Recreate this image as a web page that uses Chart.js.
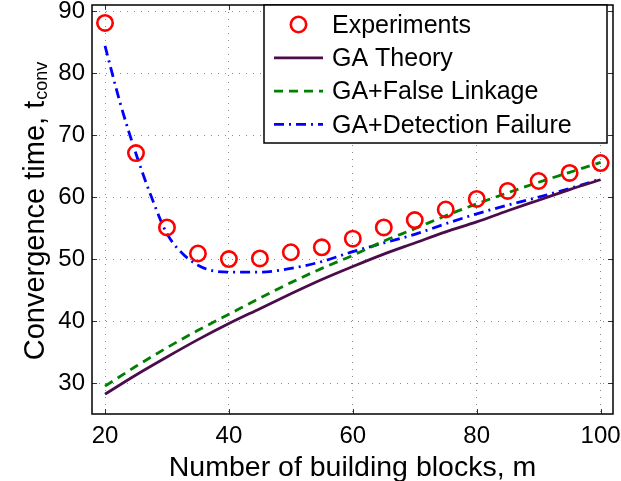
<!DOCTYPE html>
<html><head><meta charset="utf-8">
<script src="https://cdn.jsdelivr.net/npm/chart.js@4.4.1/dist/chart.umd.min.js"></script>
<style>html,body{margin:0;padding:0;background:#fff;overflow:hidden}#wrap{width:621px;height:481px;position:relative}</style>
</head><body><div id="wrap"><canvas id="c"></canvas></div>
<script>
// ---- data ----
const xTickValues = [20, 40, 60, 80, 100];
const yTickValues = [30, 40, 50, 60, 70, 80, 90];

const expM = [20, 25, 30, 35, 40, 45, 50, 55, 60, 65, 70, 75, 80, 85, 90, 95, 100];
const expT = [88.1, 67.1, 55.1, 50.9, 50.0, 50.1, 51.1, 51.9, 53.3, 55.1, 56.3, 58.0, 59.7, 61.0, 62.6, 63.9, 65.5];

const theoryM = [20, 25, 30, 35, 40, 45, 50, 55, 60, 65, 70, 75, 80, 85, 90, 95, 100];
const theoryT = [28.2, 31.3, 34.2, 37.0, 39.6, 42.0, 44.4, 46.7, 48.8, 50.8, 52.6, 54.4, 56.0, 57.8, 59.5, 61.2, 62.8];

const falseLinkM = [20, 25, 30, 35, 40, 45, 50, 55, 60, 65, 70, 75, 80, 85, 90, 95, 100];
const falseLinkT = [29.5, 32.7, 35.7, 38.5, 41.1, 43.7, 46.2, 48.5, 50.6, 52.9, 54.9, 57.0, 58.9, 60.7, 62.4, 64.0, 65.6];

const detectM = [20, 22.5, 25, 27.5, 30, 32.5, 35, 37.5, 40, 45, 50, 55, 60, 65, 70, 75, 80, 85, 90, 95, 100];
const detectT = [84.4, 75.0, 67.0, 60.0, 54.1, 50.9, 49.0, 48.1, 47.9, 47.9, 48.5, 49.6, 51.2, 52.6, 54.0, 55.7, 57.3, 58.7, 60.0, 61.4, 62.9];

const seriesLabels = ['Experiments', 'GA Theory', 'GA+False Linkage', 'GA+Detection Failure'];
const xTitle = 'Number of building blocks, m';
const yTitleMain = 'Convergence time, t';
const yTitleSub = 'conv';

// ---- helpers ----
const FONT = "'Liberation Sans', Arial, Helvetica, sans-serif";
const pts = (xs, ys) => xs.map((x, i) => ({ x: x, y: ys[i] }));

const frameAndTicks = {
  id: 'frameAndTicks',
  afterDatasetsDraw(chart) {
    const { ctx, chartArea: a, scales } = chart;
    ctx.save();
    ctx.strokeStyle = '#333';
    ctx.lineWidth = 1;
    const L = 5;
    scales.x.ticks.forEach(t => {
      const px = Math.round(scales.x.getPixelForValue(t.value)) + 0.5;
      ctx.beginPath();
      ctx.moveTo(px, a.bottom); ctx.lineTo(px, a.bottom - L);
      ctx.moveTo(px, a.top); ctx.lineTo(px, a.top + L);
      ctx.stroke();
    });
    scales.y.ticks.forEach(t => {
      const py = Math.round(scales.y.getPixelForValue(t.value)) + 0.5;
      ctx.beginPath();
      ctx.moveTo(a.left, py); ctx.lineTo(a.left + L, py);
      ctx.moveTo(a.right, py); ctx.lineTo(a.right - L, py);
      ctx.stroke();
    });
    ctx.strokeStyle = '#000';
    ctx.lineWidth = 1.5;
    ctx.strokeRect(a.left, a.top, a.right - a.left, a.bottom - a.top);
    ctx.restore();
  }
};

const matLegend = {
  id: 'matLegend',
  afterDraw(chart) {
    const { ctx, chartArea: a } = chart;
    const boxR = a.right - 6, boxL = boxR - 343, boxT = a.top, boxB = boxT + 138;
    ctx.save();
    ctx.fillStyle = '#fff';
    ctx.fillRect(boxL, boxT, boxR - boxL, boxB - boxT);
    ctx.strokeStyle = '#000';
    ctx.lineWidth = 1.5;
    ctx.strokeRect(boxL, boxT, boxR - boxL, boxB - boxT);
    const rowH = 33.3, row0 = boxT + 19.5;
    const symL = boxL + 10, symR = boxL + 59, textX = boxL + 68;
    chart.data.datasets.forEach((ds, i) => {
      const y = row0 + i * rowH;
      ctx.save();
      ctx.strokeStyle = ds.borderColor;
      if (ds.showLine === false) {
        ctx.lineWidth = ds.pointBorderWidth;
        ctx.beginPath();
        ctx.arc((symL + symR) / 2, y, ds.pointRadius, 0, Math.PI * 2);
        ctx.stroke();
      } else {
        ctx.lineWidth = ds.borderWidth;
        ctx.setLineDash(ds.borderDash || []);
        ctx.beginPath();
        ctx.moveTo(symL, y); ctx.lineTo(symR, y);
        ctx.stroke();
      }
      ctx.restore();
      ctx.fillStyle = '#000';
      ctx.font = '25px ' + FONT;
      ctx.textBaseline = 'middle';
      ctx.textAlign = 'left';
      ctx.fillText(ds.label, textX, y + 1.5);
    });
    ctx.restore();
  }
};

const yTitlePlugin = {
  id: 'yTitlePlugin',
  afterDraw(chart) {
    const { ctx, chartArea: a } = chart;
    ctx.save();
    const mainFont = '29px ' + FONT, subFont = '18px ' + FONT;
    ctx.font = mainFont;
    const wm = ctx.measureText(yTitleMain).width;
    ctx.font = subFont;
    const ws = ctx.measureText(yTitleSub).width;
    const total = wm + ws;
    const cy = (a.top + a.bottom) / 2 + 2;
    ctx.translate(44, cy + total / 2);
    ctx.rotate(-Math.PI / 2);
    ctx.fillStyle = '#000';
    ctx.textBaseline = 'alphabetic';
    ctx.textAlign = 'left';
    ctx.font = mainFont;
    ctx.fillText(yTitleMain, 0, 0);
    ctx.font = subFont;
    ctx.fillText(yTitleSub, wm + 1, 3);
    ctx.restore();
  }
};

const gridStyle = { color: '#8a8a8a', lineWidth: 1, drawTicks: false };

new Chart(document.getElementById('c'), {
  type: 'line',
  data: {
    datasets: [
      {
        label: seriesLabels[0], data: pts(expM, expT), showLine: false,
        borderColor: '#ff0000', backgroundColor: 'rgba(0,0,0,0)',
        pointStyle: 'circle', pointRadius: 7.7, pointBorderWidth: 2.6,
        pointBackgroundColor: 'rgba(0,0,0,0)', pointBorderColor: '#ff0000'
      },
      {
        label: seriesLabels[1], data: pts(theoryM, theoryT),
        borderColor: '#4b0c4b', borderWidth: 2.8, pointRadius: 0,
        cubicInterpolationMode: 'monotone', fill: false
      },
      {
        label: seriesLabels[2], data: pts(falseLinkM, falseLinkT),
        borderColor: '#008000', borderWidth: 2.8, borderDash: [9, 6], pointRadius: 0,
        cubicInterpolationMode: 'monotone', fill: false
      },
      {
        label: seriesLabels[3], data: pts(detectM, detectT),
        borderColor: '#0000ff', borderWidth: 2.8, borderDash: [10, 5, 2, 5], pointRadius: 0,
        cubicInterpolationMode: 'monotone', fill: false
      }
    ]
  },
  options: {
    responsive: true, maintainAspectRatio: false, animation: false, events: [],
    layout: { autoPadding: false, padding: { left: 0, right: 8, top: 5, bottom: 0 } },
    plugins: { legend: { display: false }, tooltip: { enabled: false }, title: { display: false } },
    scales: {
      x: {
        type: 'linear', min: 17.9, max: 102,
        afterBuildTicks: s => { s.ticks = xTickValues.map(v => ({ value: v })); },
        afterFit: s => { s.height = 67; s.paddingLeft = 0; s.paddingRight = 0; },
        grid: gridStyle,
        border: { display: false, dash: [1, 6] },
        ticks: { color: '#000', font: { family: FONT, size: 24 }, padding: 8, maxRotation: 0, autoSkip: false },
        title: { display: true, text: xTitle, color: '#000', font: { family: FONT, size: 28.5 }, padding: { top: 0, bottom: -4 } }
      },
      y: {
        type: 'linear', min: 25, max: 91,
        afterBuildTicks: s => { s.ticks = yTickValues.map(v => ({ value: v })); },
        afterFit: s => { s.width = 92; s.paddingTop = 0; s.paddingBottom = 0; },
        grid: gridStyle,
        border: { display: false, dash: [1, 6] },
        ticks: { color: '#000', font: { family: FONT, size: 24 }, padding: 7 }
      }
    }
  },
  plugins: [frameAndTicks, matLegend, yTitlePlugin]
});
</script>
</body></html>
